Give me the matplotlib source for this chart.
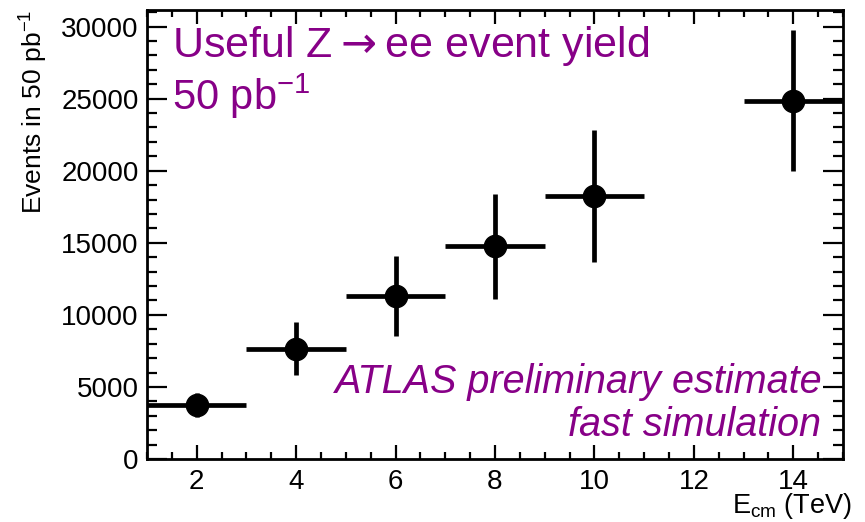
import matplotlib
matplotlib.use("Agg")
import matplotlib.pyplot as plt
from matplotlib.ticker import MultipleLocator

plt.rcParams['font.family'] = ['Liberation Sans', 'DejaVu Sans']
plt.rcParams['mathtext.fontset'] = 'custom'
plt.rcParams['mathtext.rm'] = 'Liberation Sans'
plt.rcParams['mathtext.it'] = 'Liberation Sans:italic'
plt.rcParams['mathtext.bf'] = 'Liberation Sans:bold'

# Data
energy_tev = [2, 4, 6, 8, 10, 14]
energy_halfwidth = [1, 1, 1, 1, 1, 1]
events = [3750, 7650, 11300, 14750, 18250, 24850]
events_err = [850, 1850, 2800, 3650, 4550, 4900]

title_lines = ["Useful Z$\\rightarrow$ee event yield", "50 pb$^{-1}$"]
note_lines = ["ATLAS preliminary estimate", "fast simulation"]
xlabel = "E$_{\\mathrm{cm}}$ (TeV)"
ylabel = "Events in 50 pb$^{-1}$"

purple = '#870087'

fig = plt.figure(figsize=(8.65, 5.22), dpi=100)
ax = fig.add_axes([147/865, 1 - 459/522, (843-147)/865, (459-10)/522])

ax.errorbar(energy_tev, events, xerr=energy_halfwidth, yerr=events_err,
            fmt='o', color='black', markersize=16, elinewidth=3.4,
            capsize=0, clip_on=True)

ax.set_xlim(1, 15)
ax.set_ylim(0, 31150)
ax.xaxis.set_major_locator(MultipleLocator(2))
ax.xaxis.set_minor_locator(MultipleLocator(0.5))
ax.yaxis.set_major_locator(MultipleLocator(5000))
ax.yaxis.set_minor_locator(MultipleLocator(1000))

for s in ax.spines.values():
    s.set_linewidth(2.0)

ax.tick_params(axis='both', which='both', direction='in', top=True, right=True,
               width=1.6, labelsize=20)
ax.tick_params(axis='x', which='major', length=10, pad=7)
ax.tick_params(axis='x', which='minor', length=5)
ax.tick_params(axis='y', which='major', length=14.5, pad=6)
ax.tick_params(axis='y', which='minor', length=7.2)

ax.set_xlabel(xlabel, fontsize=19.5, ha='right', va='top')
ax.xaxis.set_label_coords(1.013, -0.071)
ax.set_ylabel(ylabel, fontsize=19, loc='top', labelpad=8)

ax.text(172, 522 - 57, title_lines[0], transform=None, fontsize=31,
        color=purple, ha='left', va='baseline', math_fontfamily='dejavusans')
ax.text(172, 522 - 110, title_lines[1], transform=None, fontsize=30,
        color=purple, ha='left', va='baseline')

ax.text(823, 522 - 393, note_lines[0], transform=None, fontsize=28.5,
        color=purple, ha='right', va='baseline', style='italic')
ax.text(821, 522 - 436, note_lines[1], transform=None, fontsize=28.5,
        color=purple, ha='right', va='baseline', style='italic')

fig.savefig("out.png", dpi=100)
